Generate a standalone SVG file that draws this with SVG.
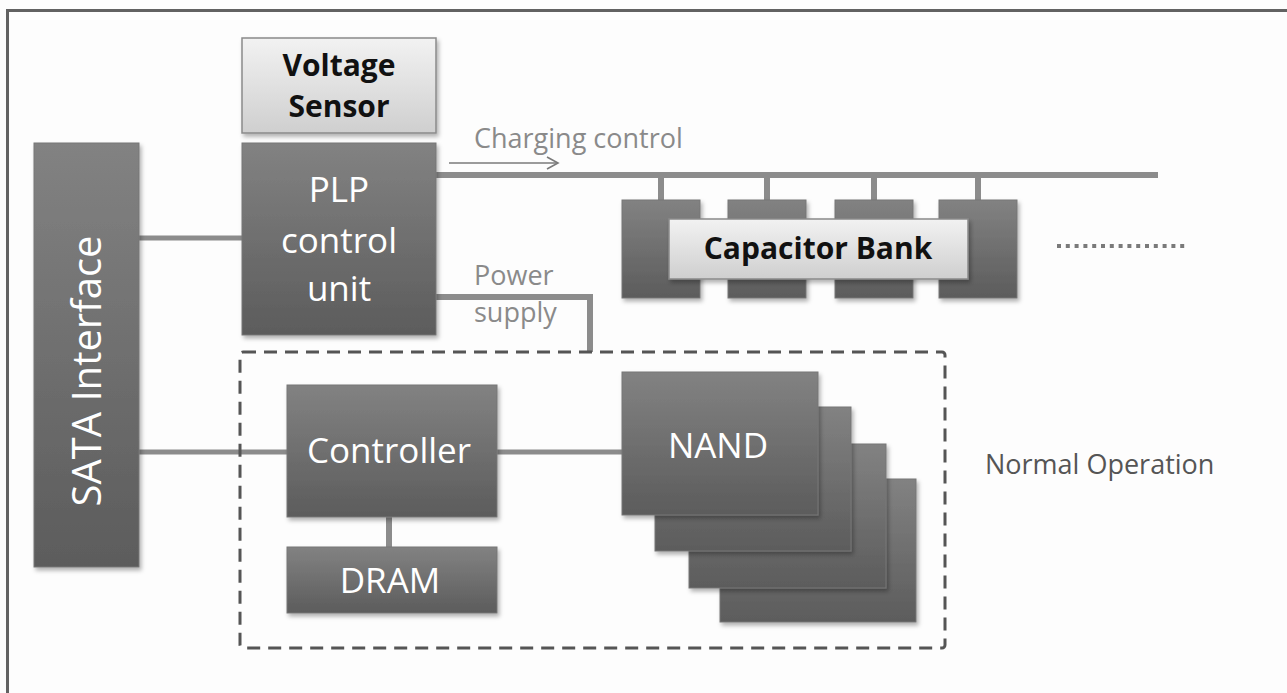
<svg xmlns="http://www.w3.org/2000/svg" width="1287" height="693" viewBox="0 0 1287 693">
<defs>
<linearGradient id="dark" x1="0" y1="0" x2="0" y2="1">
<stop offset="0" stop-color="#828282"/>
<stop offset="1" stop-color="#5c5c5c"/>
</linearGradient>
<linearGradient id="light" x1="0" y1="0" x2="0" y2="1">
<stop offset="0" stop-color="#f2f2f2"/>
<stop offset="1" stop-color="#cfcfcf"/>
</linearGradient>
<filter id="sh" x="-10%" y="-10%" width="125%" height="125%">
<feDropShadow dx="2" dy="3" stdDeviation="2" flood-color="#000" flood-opacity="0.3"/>
</filter>
<marker id="open" markerWidth="14" markerHeight="14" refX="12" refY="7" orient="auto" markerUnits="userSpaceOnUse">
<path d="M1,1 L12,7 L1,13" fill="none" stroke="#7a7a7a" stroke-width="1.6"/>
</marker>
</defs>
<style>
.dk{fill:url(#dark);stroke:#777;stroke-width:1;filter:url(#sh)}
.lt{fill:url(#light);stroke:#8a8a8a;stroke-width:1.5;filter:url(#sh)}
.wt{font-family:"Open Sans",Lato,sans-serif;fill:#ffffff;font-size:35px;text-anchor:middle}
.bk{font-family:"Open Sans",Lato,sans-serif;fill:#111;font-size:30px;font-weight:bold;text-anchor:middle}
.gr{font-family:"Open Sans",Lato,sans-serif;fill:#8a8a8a;font-size:27px}
.ln{stroke:#8c8c8c;fill:none}
</style>
<rect width="1287" height="693" fill="#fdfdfd"/>
<path d="M7.5,693 V10.5 H1287" fill="none" stroke="#626262" stroke-width="3"/>

<g id="connectors">
<line class="ln" x1="139" y1="238" x2="242" y2="238" stroke-width="5"/>
<line class="ln" x1="139" y1="452" x2="287" y2="452" stroke-width="5" stroke="#9a9a9a"/>
<line class="ln" x1="436" y1="175" x2="1158" y2="175" stroke-width="6"/>
<line class="ln" x1="661" y1="175" x2="661" y2="200" stroke-width="6"/>
<line class="ln" x1="767" y1="175" x2="767" y2="200" stroke-width="6"/>
<line class="ln" x1="874" y1="175" x2="874" y2="200" stroke-width="6"/>
<line class="ln" x1="978" y1="175" x2="978" y2="200" stroke-width="6"/>
<path class="ln" d="M436,297 H590 V352" stroke-width="6"/>
<line class="ln" x1="389" y1="517" x2="389" y2="547" stroke-width="6"/>
<line class="ln" x1="497" y1="452" x2="622" y2="452" stroke-width="5" stroke="#9a9a9a"/>
<line x1="449" y1="163" x2="558" y2="163" stroke="#7a7a7a" stroke-width="1.6" marker-end="url(#open)"/>
<line x1="1057" y1="246" x2="1186" y2="246" stroke="#7a7a7a" stroke-width="4" stroke-dasharray="4,4.8"/>
</g>

<g id="frame-normal">
<rect x="240" y="352" width="705" height="296" rx="3" fill="none" stroke="#555" stroke-width="3" stroke-dasharray="13,8"/>
<text x="985" y="474" class="gr" style="fill:#555">Normal Operation</text>
</g>

<g id="voltage-sensor">
<rect class="lt" x="242" y="38" width="194" height="95"/>
<text class="bk" x="339" y="76">Voltage</text>
<text class="bk" x="339" y="117">Sensor</text>
</g>

<g id="plp">
<rect class="dk" x="242" y="143" width="194" height="192"/>
<text class="wt" x="339" y="202">PLP</text>
<text class="wt" x="339" y="253">control</text>
<text class="wt" x="339" y="301">unit</text>
</g>

<g id="sata">
<rect class="dk" x="34" y="143" width="105" height="424"/>
<text class="wt" style="font-size:40px" transform="translate(101,371) rotate(-90)">SATA Interface</text>
</g>

<g id="labels">
<text class="gr" x="474" y="148">Charging control</text>
<text class="gr" x="474" y="285">Power</text>
<text class="gr" x="474" y="322">supply</text>
</g>

<g id="capacitor-bank">
<rect class="dk" x="622" y="200" width="78" height="98"/>
<rect class="dk" x="728" y="200" width="78" height="98"/>
<rect class="dk" x="835" y="200" width="78" height="98"/>
<rect class="dk" x="939" y="200" width="78" height="98"/>
<rect class="lt" x="669" y="219" width="299" height="60"/>
<text class="bk" x="818" y="259" style="font-size:30px">Capacitor Bank</text>
</g>

<g id="controller">
<rect class="dk" x="287" y="385" width="210" height="132"/>
<text class="wt" x="389" y="463">Controller</text>
</g>

<g id="dram">
<rect class="dk" x="287" y="547" width="210" height="66"/>
<text class="wt" x="390" y="593">DRAM</text>
</g>

<g id="nand">
<rect class="dk" x="720" y="479" width="196" height="143"/>
<rect class="dk" x="689" y="444" width="197" height="144"/>
<rect class="dk" x="655" y="407" width="196" height="144"/>
<rect class="dk" x="622" y="372" width="196" height="143"/>
<text class="wt" x="718" y="458">NAND</text>
</g>
</svg>
